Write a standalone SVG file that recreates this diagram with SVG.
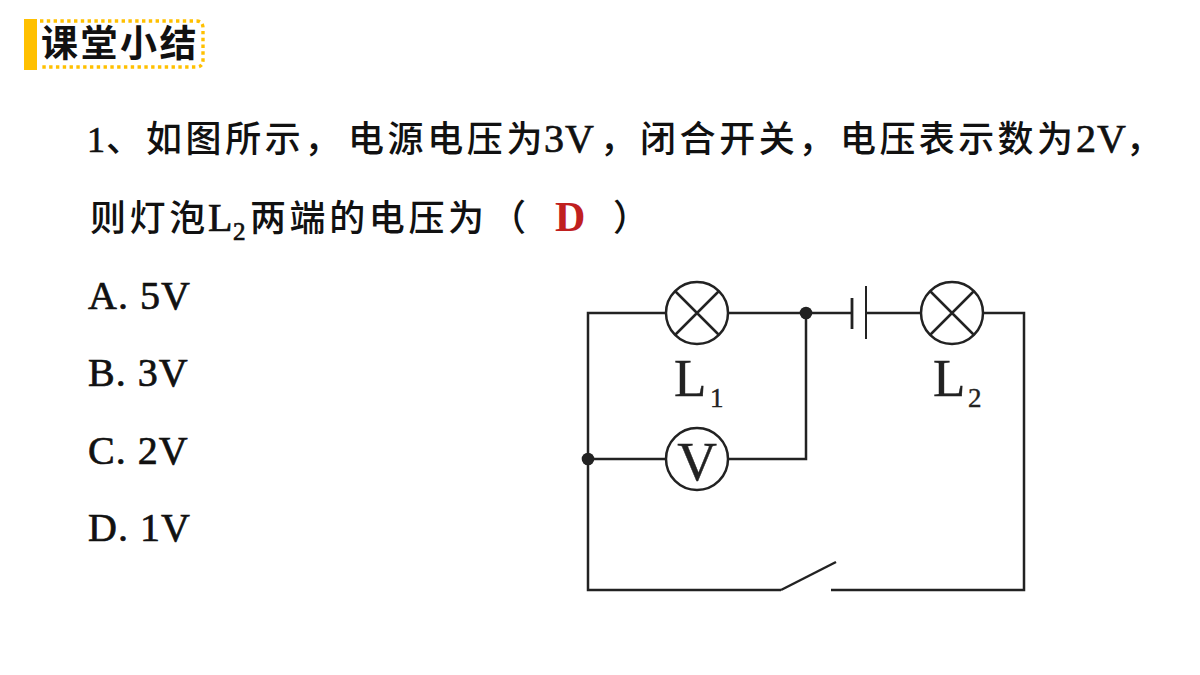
<svg xmlns="http://www.w3.org/2000/svg" width="1200" height="675" viewBox="0 0 1200 675">
<style>
.cn{font-family:"Noto Sans CJK SC","Liberation Serif",sans-serif;font-size:36px;font-weight:500;fill:#111;letter-spacing:3.6px}
.en{font-family:"Liberation Serif","Noto Sans CJK SC",serif;font-size:40px;font-weight:400;fill:#111;stroke:#111;stroke-width:.7;letter-spacing:1px}
.sym{font-family:"Liberation Serif",serif;fill:#222;stroke:#222;stroke-width:.4}
.w{fill:none;stroke:#222;stroke-width:2.5}
.b{fill:#fff;stroke:#222;stroke-width:2.5}
.d{fill:#222}
</style>
<rect width="1200" height="675" fill="#fff"/>
<g id="title">
<rect x="24" y="19" width="13" height="51" fill="#ffc000"/>
<path d="M40 21H196Q203 21 203 28V60Q203 67 196 67H40" fill="none" stroke="#ffc000" stroke-width="3.4" stroke-dasharray="3.4 3.4"/>
<text x="41" y="57" style="font-family:'Noto Sans CJK SC',sans-serif;font-size:37px;font-weight:700;fill:#111;letter-spacing:2.5px">课堂小结</text>
</g>
<g id="question">
<text class="en" x="87" y="152" style="font-size:36px;letter-spacing:0">1</text><text class="cn" x="106" y="152">、</text>
<text class="cn" x="146" y="152">如图所示，</text>
<text class="cn" x="348" y="152">电源电压为</text>
<text class="en" x="544" y="152">3V</text><text class="cn" x="600" y="152">，</text>
<text class="cn" x="640" y="152">闭合开关，</text>
<text class="cn" x="840" y="152" style="letter-spacing:3.4px">电压表示数为</text>
<text class="en" x="1076" y="152">2V</text><text class="cn" x="1126" y="152">，</text>
<text class="cn" x="90" y="231">则灯泡</text>
<text class="en" x="208" y="231" style="letter-spacing:0">L</text><text class="en" x="233" y="240" style="font-size:25px;letter-spacing:0">2</text>
<text class="cn" x="250" y="231">两端的电压为</text>
<text class="cn" x="490" y="231">（</text>
<text x="555" y="231" style="font-family:'Liberation Serif',serif;font-size:42px;font-weight:700;fill:#c0201f">D</text>
<text class="cn" x="613" y="231">）</text>
</g>
<g id="options">
<text class="en" x="88" y="309">A. 5V</text>
<text class="en" x="88" y="386">B. 3V</text>
<text class="en" x="88" y="464">C. 2V</text>
<text class="en" x="88" y="541">D. 1V</text>
</g>
<g id="connectors">
<path class="w" d="M666 313H588V590H781M831 590H1024V313H984M729 313H852M866 313H921M806 313V459H729M666 459H588"/>
<path class="w" d="M781 590L836 562"/>
<path d="M852 298V329" fill="none" stroke="#222" stroke-width="2.8"/>
<path d="M866 286V339" fill="none" stroke="#222" stroke-width="2"/>
</g>
<g id="lamp-L1">
<circle class="b" cx="697" cy="313" r="31"/>
<path class="w" d="M675 291L719 335M719 291L675 335"/>
<text class="sym" x="674" y="396" font-size="53">L</text><text class="sym" x="710" y="407" font-size="27">1</text>
</g>
<g id="lamp-L2">
<circle class="b" cx="952" cy="313" r="31"/>
<path class="w" d="M930 291L974 335M974 291L930 335"/>
<text class="sym" x="933" y="396" font-size="53">L</text><text class="sym" x="968" y="407" font-size="27">2</text>
</g>
<g id="voltmeter">
<circle class="b" cx="697" cy="459" r="31"/>
<text class="sym" x="697" y="480" font-size="55" text-anchor="middle">V</text>
</g>
<g id="junctions">
<circle class="d" cx="806" cy="313" r="6.3"/>
<circle class="d" cx="588" cy="459" r="6.3"/>
</g>
</svg>
